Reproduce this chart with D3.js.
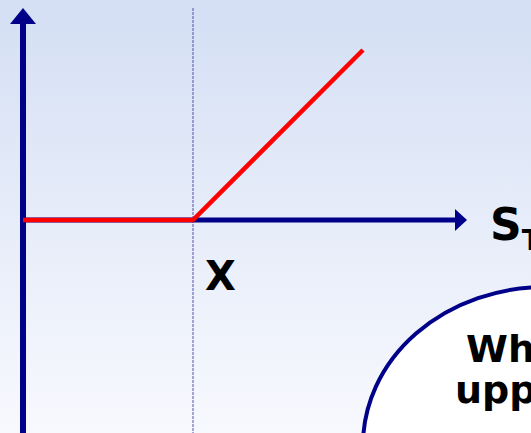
<!DOCTYPE html>
<html><head><meta charset="utf-8">
<script src="https://cdn.jsdelivr.net/npm/d3@7"></script>
<style>html,body{margin:0;padding:0;overflow:hidden;}svg{display:block;}</style>
</head><body>
<script>
// Data: long call payoff at expiry
const stockPrices = [0, 100, 200];
const payoffs = [0, 0, 100];
const strike = 100;
const strikeLabel = "X";
const xAxisLabel = "S";
const xAxisSub = "T";
const bubbleLines = ["What is the", "upper bound?"];

const W = 531, H = 433;
const svg = d3.select("body").append("svg").attr("width", W).attr("height", H);
const defs = svg.append("defs");
const grad = defs.append("linearGradient").attr("id", "bg").attr("x1", 0).attr("y1", 0).attr("x2", 0).attr("y2", 1);
grad.append("stop").attr("offset", "0%").attr("stop-color", "#d4dff4");
grad.append("stop").attr("offset", "100%").attr("stop-color", "#f8f9fe");
svg.append("rect").attr("width", W).attr("height", H).attr("fill", "url(#bg)");

const x = d3.scaleLinear().domain([0, 100]).range([23, 193]);
const y = d3.scaleLinear().domain([0, 100]).range([220, 50]);
const navy = "#000088";

// strike dashed line
svg.append("line").attr("x1", x(strike)).attr("x2", x(strike)).attr("y1", 8).attr("y2", H)
  .attr("stroke", "#5050b0").attr("stroke-width", 1).attr("stroke-dasharray", "3,1");

// y axis
svg.append("line").attr("x1", x(0)).attr("x2", x(0)).attr("y1", 22).attr("y2", H)
  .attr("stroke", navy).attr("stroke-width", 6);
svg.append("path").attr("d", `M${x(0)-13},24 L${x(0)},8 L${x(0)+13},24 Z`).attr("fill", navy);

// x axis
svg.append("line").attr("x1", x(0)).attr("x2", 458).attr("y1", y(0)).attr("y2", y(0))
  .attr("stroke", navy).attr("stroke-width", 5);
svg.append("path").attr("d", `M455,${y(0)-11} L467,${y(0)} L455,${y(0)+11} Z`).attr("fill", navy);

// payoff line
const line = d3.line().x((d, i) => x(stockPrices[i])).y(d => y(d));
svg.append("path").datum(payoffs).attr("d", line).attr("fill", "none")
  .attr("stroke", "#ff0000").attr("stroke-width", 4.5).attr("stroke-linejoin", "miter");

// labels
svg.append("text").attr("x", 205).attr("y", 290).text(strikeLabel)
  .attr("font-family", "DejaVu Sans").attr("font-weight", "bold").attr("font-size", 40).attr("fill", "#000");
const st = svg.append("text").attr("x", 490).attr("y", 240)
  .attr("font-family", "DejaVu Sans").attr("font-weight", "bold").attr("font-size", 44).attr("fill", "#000");
st.append("tspan").text(xAxisLabel);
st.append("tspan").text(xAxisSub).attr("font-size", 28).attr("dy", 10);

// bubble
svg.append("ellipse").attr("cx", 545).attr("cy", 445).attr("rx", 182).attr("ry", 158)
  .attr("fill", "#ffffff").attr("stroke", navy).attr("stroke-width", 4);
svg.append("text").attr("x", 466).attr("y", 362).text(bubbleLines[0])
  .attr("font-family", "DejaVu Sans").attr("font-weight", "bold").attr("font-size", 38).attr("fill", "#000");
svg.append("text").attr("x", 455).attr("y", 403).text(bubbleLines[1])
  .attr("font-family", "DejaVu Sans").attr("font-weight", "bold").attr("font-size", 38).attr("fill", "#000");
</script>
</body></html>
